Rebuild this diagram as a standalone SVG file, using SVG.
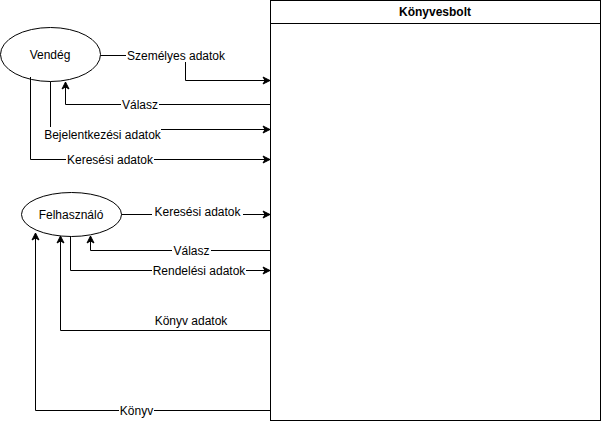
<svg xmlns="http://www.w3.org/2000/svg" width="601" height="421" viewBox="0 0 601 421">
<defs>
<marker id="arr" markerWidth="10" markerHeight="10" refX="8" refY="5" orient="auto" markerUnits="userSpaceOnUse">
<path d="M1,1.5 L8,5 L1,8.5 L3,5 Z" fill="#000" stroke="#000" stroke-width="1"/>
</marker>
</defs>
<style>
.n{fill:#fff;stroke:#000;stroke-width:1}
.c{fill:none;stroke:#000;stroke-width:1}
.t{font-family:"Liberation Sans",Arial,sans-serif;font-size:12px;fill:#000}
.b{fill:#fff}
</style>
<rect width="601" height="421" fill="#fff"/>
<g id="konyvesbolt">
<rect class="n" x="270.5" y="0.5" width="330" height="420"/>
<line class="c" x1="270.5" y1="23.5" x2="600.5" y2="23.5"/>
<text class="t" x="435" y="16" text-anchor="middle" font-weight="bold">Könyvesbolt</text>
</g>
<g id="vendeg">
<ellipse class="n" cx="50.5" cy="54.5" rx="50" ry="27"/>
<text class="t" x="50" y="59" text-anchor="middle">Vendég</text>
</g>
<g id="felhasznalo">
<ellipse class="n" cx="71.5" cy="214.5" rx="50" ry="22"/>
<text class="t" x="71" y="219" text-anchor="middle">Felhasználó</text>
</g>
<g id="connectors">
<path class="c" d="M100.5,55.5 H185.5 V80.5 H270" marker-end="url(#arr)"/>
<rect class="b" x="126" y="49" width="100" height="13"/>
<text class="t" x="176" y="60" text-anchor="middle">Személyes adatok</text>

<path class="c" d="M270.5,104.5 H65.5 V82" marker-end="url(#arr)"/>
<rect class="b" x="121" y="98" width="38" height="13"/>
<text class="t" x="140" y="108.5" text-anchor="middle">Válasz</text>

<path class="c" d="M50.5,81.5 V129.5 H270" marker-end="url(#arr)"/>
<rect class="b" x="44" y="127" width="117" height="13"/>
<text class="t" x="102.5" y="138.5" text-anchor="middle">Bejelentkezési adatok</text>

<path class="c" d="M30.5,77 V159.5 H270" marker-end="url(#arr)"/>
<rect class="b" x="66" y="153" width="88" height="13"/>
<text class="t" x="110" y="163.5" text-anchor="middle">Keresési adatok</text>

<path class="c" d="M121.5,214.5 H270" marker-end="url(#arr)"/>
<rect class="b" x="152" y="205" width="91" height="10"/>
<text class="t" x="197.5" y="215.5" text-anchor="middle">Keresési adatok</text>

<path class="c" d="M270.5,250.5 H90.5 V236" marker-end="url(#arr)"/>
<rect class="b" x="172" y="244" width="39" height="13"/>
<text class="t" x="191.5" y="254.5" text-anchor="middle">Válasz</text>

<path class="c" d="M70.5,236.5 V270.5 H270" marker-end="url(#arr)"/>
<rect class="b" x="152" y="264" width="94" height="13"/>
<text class="t" x="199" y="274.5" text-anchor="middle">Rendelési adatok</text>

<path class="c" d="M270.5,330.5 H60.5 V236" marker-end="url(#arr)"/>
<text class="t" x="191" y="325" text-anchor="middle">Könyv adatok</text>

<path class="c" d="M270.5,410.5 H35.5 V233" marker-end="url(#arr)"/>
<rect class="b" x="119" y="404" width="35" height="13"/>
<text class="t" x="136.5" y="414.5" text-anchor="middle">Könyv</text>
</g>
</svg>
